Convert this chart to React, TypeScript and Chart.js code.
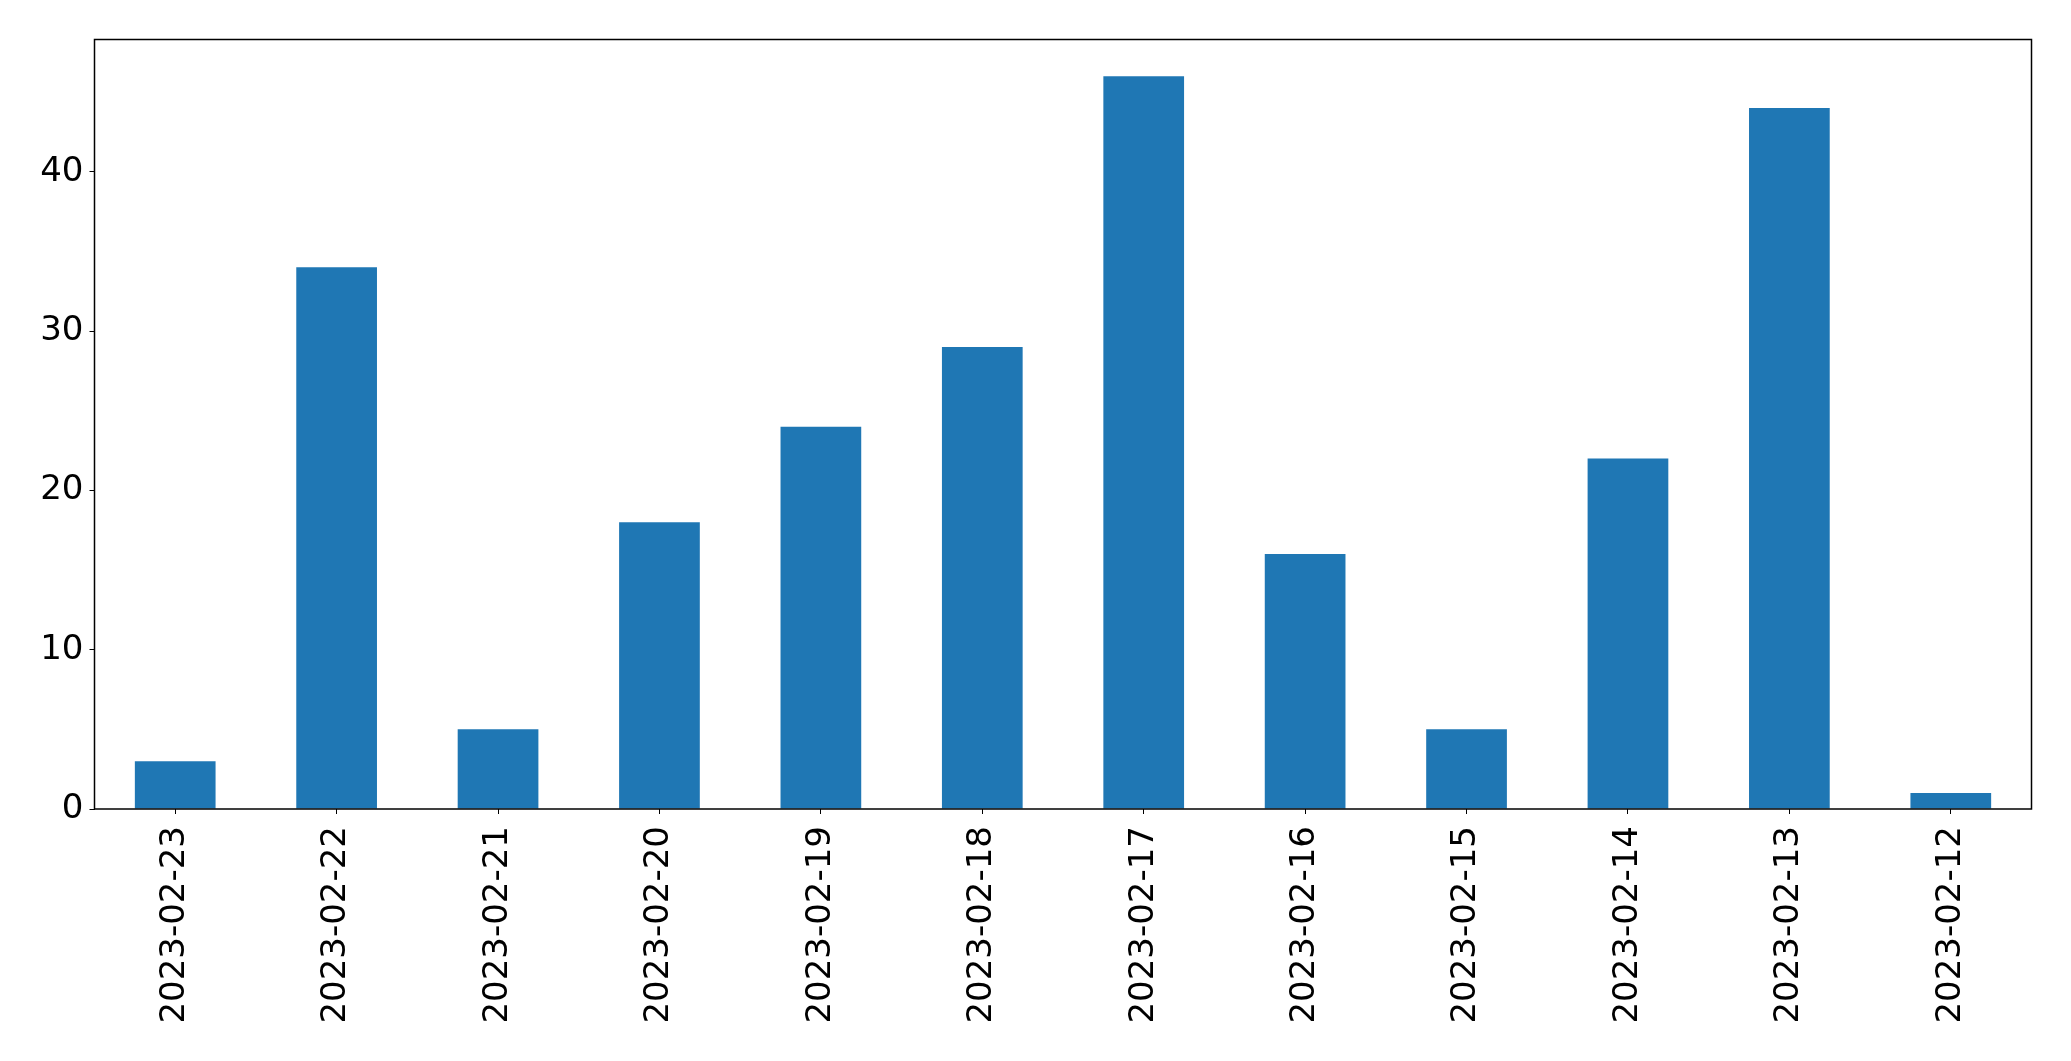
import React, { useEffect, useRef } from "react";
import { Chart, registerables } from "chart.js";

Chart.register(...registerables);

const categories = [
  "2023-02-23", "2023-02-22", "2023-02-21", "2023-02-20", "2023-02-19", "2023-02-18",
  "2023-02-17", "2023-02-16", "2023-02-15", "2023-02-14", "2023-02-13", "2023-02-12",
];
const values = [3, 34, 5, 18, 24, 29, 46, 16, 5, 22, 44, 1];
const yTicks = [0, 10, 20, 30, 40];

const W = 2071;
const H = 1061;
const LEFT = 94.5;
const RIGHT = 2031.5;
const TOP = 39.5;
const BOTTOM = 809;

const frame = {
  id: "frame",
  afterDraw(chart: any) {
    const { ctx, chartArea } = chart;
    ctx.save();
    ctx.strokeStyle = "#000";
    ctx.lineWidth = 1.5;
    ctx.strokeRect(chartArea.left, chartArea.top, chartArea.right - chartArea.left, chartArea.bottom - chartArea.top);
    ctx.restore();
  },
};

export default function App() {
  const ref = useRef<HTMLCanvasElement>(null);
  useEffect(() => {
    const font = { family: "DejaVu Sans", size: 34 };
    const chart = new Chart(ref.current!, {
      type: "bar",
      data: {
        labels: categories,
        datasets: [
          {
            data: values,
            backgroundColor: "#1f77b4",
            categoryPercentage: 1,
            barPercentage: 0.5,
          },
        ],
      },
      options: {
        animation: false,
        responsive: false,
        maintainAspectRatio: false,
        layout: { padding: { left: 0, right: W - RIGHT, top: TOP, bottom: 0 } },
        plugins: { legend: { display: false }, tooltip: { enabled: false } },
        scales: {
          x: {
            grid: { display: true, drawOnChartArea: false, drawTicks: true, tickLength: 5, color: "#000", offset: false },
            border: { display: false },
            ticks: { font, color: "#000", minRotation: 90, maxRotation: 90, padding: 12, autoSkip: false },
            afterFit(scale: any) {
              scale.height = H - BOTTOM;
            },
          },
          y: {
            min: 0,
            max: 48.3,
            grid: { display: true, drawOnChartArea: false, drawTicks: true, tickLength: 5, color: "#000" },
            border: { display: false },
            ticks: { font, color: "#000", padding: 6 },
            afterBuildTicks(scale: any) {
              scale.ticks = yTicks.map((v) => ({ value: v }));
            },
            afterFit(scale: any) {
              scale.width = LEFT;
            },
          },
        },
      },
      plugins: [frame],
    });
    return () => chart.destroy();
  }, []);
  return (
    <div style={{ position: "fixed", left: 0, top: 0, width: W, height: H, background: "#fff" }}>
      <canvas ref={ref} width={W} height={H} style={{ width: W, height: H }} />
    </div>
  );
}
